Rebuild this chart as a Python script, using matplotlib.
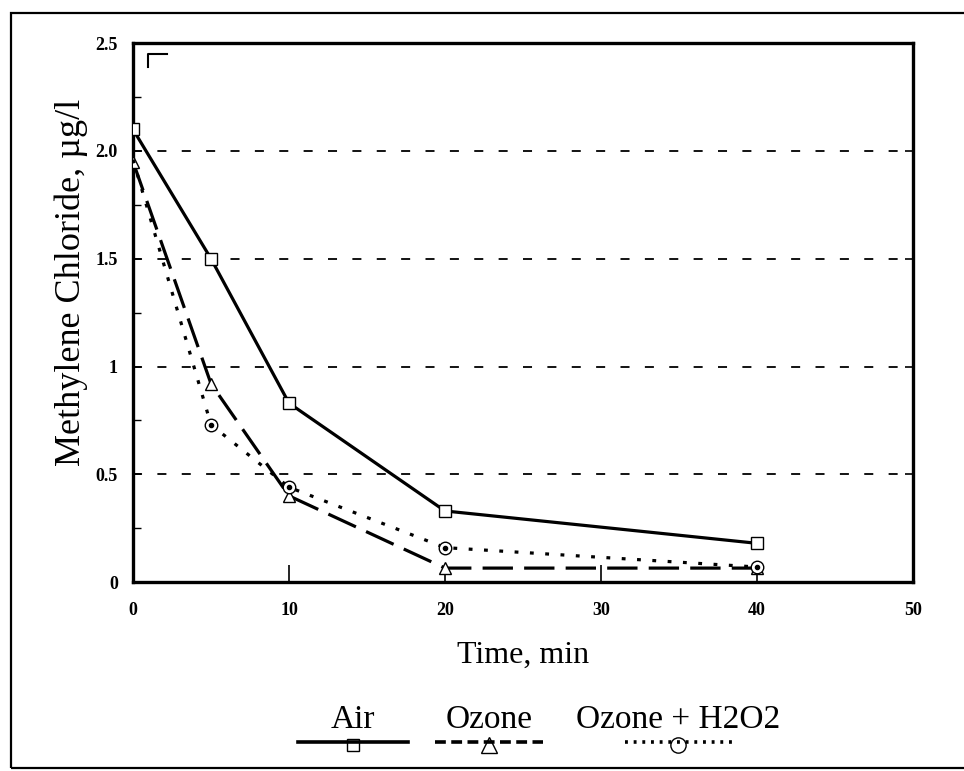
import matplotlib
matplotlib.use("Agg")
import matplotlib.pyplot as plt
from matplotlib.lines import Line2D
from matplotlib.patches import Rectangle
from matplotlib.ticker import MultipleLocator

# data
time_min = [0, 5, 10, 20, 40]
air = [2.1, 1.5, 0.83, 0.33, 0.18]
ozone = [1.95, 0.92, 0.40, 0.065, 0.065]
ozone_h2o2 = [1.96, 0.73, 0.44, 0.16, 0.07]
series_names = ["Air", "Ozone", "Ozone + H2O2"]

serif = "Liberation Serif"
plt.rcParams["font.family"] = serif

fig = plt.figure(figsize=(9.64, 7.71), dpi=100)
ax = fig.add_axes([0.138, 0.245, 0.809, 0.699])

# outer frame (right side runs off the page)
fig.patches.append(Rectangle((0.0115, 0.004), 1.1, 0.979, transform=fig.transFigure,
                             fill=False, lw=1.6, ec="black"))

ax.set_xlim(0, 50)
ax.set_ylim(0, 2.5)
for s in ax.spines.values():
    s.set_linewidth(2.4)

for y in [0.5, 1.0, 1.5, 2.0]:
    ax.axhline(y, color="black", lw=1.3, ls=(0, (5, 8.5)), zorder=1)

lw = 2.3
ax.plot(time_min, air, color="black", lw=lw, ls="-", marker="s", ms=8,
        mfc="white", mec="black", mew=1.0, zorder=3)
ax.plot(time_min, ozone, color="black", lw=lw, ls=(0, (9.5, 3.5)), marker="^", ms=9,
        mfc="white", mec="black", mew=1.0, zorder=3)
ax.plot(time_min, ozone_h2o2, color="black", lw=lw, ls=(0, (1.2, 3.6)), marker="o", ms=9,
        mfc="white", mec="black", mew=1.0, markevery=[1, 2, 3, 4], zorder=3)
# dot inside the circles
ax.plot(time_min[1:], ozone_h2o2[1:], ls="none", marker="o", ms=3, color="black", zorder=4)

ax.xaxis.set_major_locator(MultipleLocator(10))
ax.yaxis.set_minor_locator(MultipleLocator(0.25))
ax.set_yticks([0, 0.5, 1.0, 1.5, 2.0, 2.5])
ax.set_yticklabels(["0", "0.5", "1", "1.5", "2.0", "2.5"])
ax.tick_params(axis="x", direction="in", length=12, width=1.2, pad=14,
               labelsize=13)
ax.tick_params(axis="y", which="major", direction="in", length=6, width=1.2, pad=11,
               labelsize=13, right=True)
ax.tick_params(axis="y", which="minor", direction="in", length=6, width=1.0)
for lab in ax.get_xticklabels() + ax.get_yticklabels():
    lab.set_fontweight("bold")

ax.set_xlabel("Time, min", fontsize=23, labelpad=16)
ax.set_ylabel("Methylene Chloride, \u00b5g/l", fontsize=26)
ax.yaxis.set_label_coords(-0.058, 0.557)

# legend: label above, line with marker below
leg = fig.add_axes([0, 0, 1, 1], facecolor="none")
leg.set_xlim(0, 964)
leg.set_ylim(771, 0)
leg.axis("off")
styles = [("-", "s", 8), ((0, (3, 1.5)), "^", 11), ((0, (0.8, 1.6)), "o", 11)]
spans = [(298, 408), (435, 543), (625, 732)]
centers = [353, 489, 678]
for name, (ls, mk, ms), (x0, x1), xc in zip(series_names, styles, spans, centers):
    leg.text(xc, 728, name, ha="center", va="baseline", fontsize=24)
    leg.add_line(Line2D([x0, x1], [742, 742], color="black", lw=2.6, ls=ls))
    leg.add_line(Line2D([xc], [745], marker=mk, ms=ms, mfc="none", mec="black",
                        mew=1.0, ls="none"))

# small stray corner mark near the top left of the plot
leg.add_line(Line2D([148, 148, 167], [67, 54, 54], color="black", lw=1.5))

fig.savefig("out.png", dpi=100)
